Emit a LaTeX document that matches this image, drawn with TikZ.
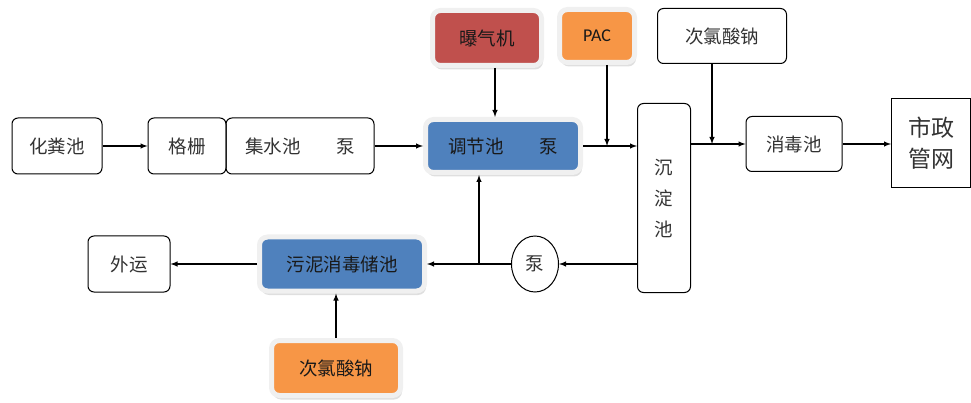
\documentclass[tikz,border=0pt]{standalone}
\usepackage{fontspec}
\setmainfont{Carlito}
\newfontfamily\cjk{Noto Sans CJK SC}
\usetikzlibrary{shapes.geometric,shadows}
\definecolor{boxred}{HTML}{C0504D}
\definecolor{boxblue}{HTML}{4F81BD}
\definecolor{boxorange}{HTML}{F79646}

\begin{document}
\begin{tikzpicture}[x=1pt, y=-1pt,
  box/.style={draw, rounded corners=6pt, line width=1pt, text=black!80,
    font=\cjk\fontsize{18.5}{20}\selectfont},
  fillbox/.style={box, draw=black!6, line width=5pt, rounded corners=8pt, text=black!90,
    drop shadow={shadow xshift=1.5pt, shadow yshift=-4pt, fill=black!25}},
  arr/.style={->, >=latex, line width=1.4pt}]
\useasboundingbox (0,0) rectangle (971,403);

\node[box, minimum width=90pt, minimum height=56pt] (hfc) at (57,146) {化粪池};
\node[box, minimum width=78pt, minimum height=56pt] (gs) at (187,146) {格栅};
\node[box, minimum width=148pt, minimum height=56pt] (jsc) at (300,146) {集水池\hspace{1.9em}泵};
\node[fillbox, fill=boxblue, minimum width=155pt, minimum height=53pt] (tjc) at (503,146) {调节池\hspace{1.9em}泵};
\node[fillbox, fill=boxred, minimum width=109pt, minimum height=55pt] (bqj) at (487,38) {曝气机};
\node[fillbox, fill=boxorange, minimum width=75pt, minimum height=53pt,
  font=\fontsize{18}{20}\selectfont] (pac) at (597,36) {PAC};
\node[box, minimum width=129pt, minimum height=55pt] (clsn) at (722,36) {次氯酸钠};
\node[box, minimum width=53pt, minimum height=189pt, align=center,
  font=\cjk\fontsize{18.5}{31}\selectfont] (cdc) at (664,198) {沉\\淀\\池};
\node[box, minimum width=96pt, minimum height=55pt] (xdc) at (794,144) {消毒池};
\node[box, rounded corners=0pt, minimum width=79pt, minimum height=89pt, align=center,
  font=\cjk\fontsize{23}{31}\selectfont] (szgw) at (931,143) {市政\\管网};
\node[box, ellipse, minimum width=47pt, minimum height=56pt, inner sep=0pt] (pump) at (535,264) {泵};
\node[fillbox, fill=boxblue, minimum width=165pt, minimum height=54pt] (wn) at (342,264) {污泥消毒储池};
\node[box, minimum width=82pt, minimum height=56pt] (wy) at (129,264) {外运};
\node[fillbox, fill=boxorange, minimum width=129pt, minimum height=55pt] (clsn2) at (336,368) {次氯酸钠};

\draw[arr] (hfc) -- (gs);
\draw[arr] (jsc) -- (tjc);
\draw[arr] ([xshift=8pt]bqj.south) -- ([xshift=8pt]bqj.south |- tjc.north);
\draw[arr] (tjc.east) -- (tjc.east -| cdc.west);
\draw[arr] ([xshift=10pt]pac.south) -- ([xshift=10pt]pac.south |- tjc.east);
\draw[arr] (cdc.east |- xdc.west) -- (xdc.west);
\draw[arr] ([xshift=-10pt]clsn.south) -- ([xshift=-10pt]clsn.south |- xdc.west);
\draw[arr] (xdc.east) -- (xdc.east -| szgw.west);
\draw[arr] (pump.east -| cdc.west) -- (pump);
\draw[arr] (pump) -- (wn);
\coordinate (jn) at ([xshift=-24pt]tjc.south |- wn.east);
\draw[arr] (jn) -- ([xshift=-24pt]tjc.south);
\draw[arr] (wn) -- (wy);
\draw[arr] (clsn2.north) -- (clsn2.north |- wn.south);
\end{tikzpicture}
\end{document}
